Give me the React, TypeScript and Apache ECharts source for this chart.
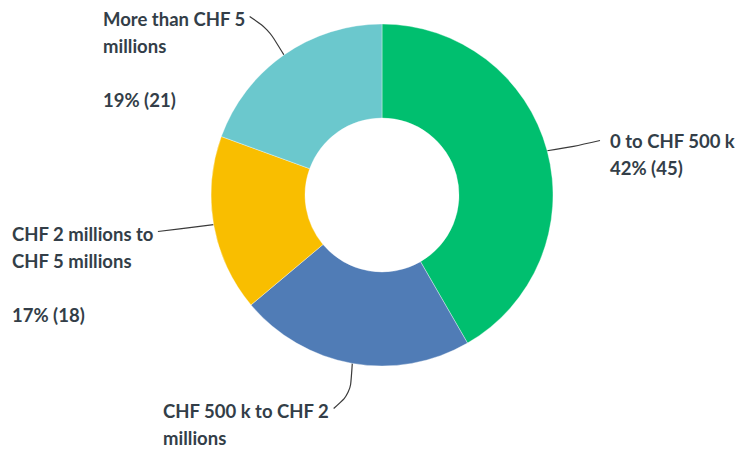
import React, { useEffect, useRef } from "react";
import * as echarts from "echarts";

const categories = [
  "0 to CHF 500 k",
  "CHF 500 k to CHF 2\nmillions",
  "CHF 2 millions to\nCHF 5 millions",
  "More than CHF 5\nmillions",
];
const counts = [45, 24, 18, 21];
const percents = [42, 22, 17, 19];
const colors = ["#00BF6F", "#507CB6", "#F9BE00", "#6BC8CD"];

export default function App() {
  const ref = useRef<HTMLDivElement>(null);
  useEffect(() => {
    if (!ref.current) return;
    const chart = echarts.init(ref.current, undefined, { renderer: "svg" });
    const LH = 27;
    const place = [
      { x: 610, y: 127, side: "right" },
      { x: 163, y: 397, side: "left" },
      { x: 12, y: 220, side: "left" },
      { x: 103, y: 5, side: "left" },
    ];
    chart.setOption({
      animation: false,
      backgroundColor: "#ffffff",
      series: [
        {
          type: "pie",
          center: [382, 195],
          radius: [77, 171],
          startAngle: 90,
          clockwise: true,
          data: categories.map((name, i) => ({
            name,
            value: counts[i],
            itemStyle: { color: colors[i] },
          })),
          itemStyle: { borderColor: "rgba(255,255,255,0.6)", borderWidth: 0.6 },
          label: {
            show: true,
            position: "outside",
            color: "#333e48",
            fontFamily: "Lato",
            fontWeight: "bold",
            fontSize: 18.5,
            lineHeight: LH,
            formatter: (p: any) => {
              const i = p.dataIndex;
              const sep = categories[i].includes("\n") ? "\n\n" : "\n";
              return `${categories[i]}${sep}${percents[i]}% (${counts[i]})`;
            },
          },
          labelLine: {
            show: true,
            smooth: 0.3,
            lineStyle: { color: "#3a3a3a", width: 1.2 },
          },
          labelLayout: (params: any) => {
            const i = params.dataIndex;
            const pl = place[i];
            const w = params.labelRect.width;
            const anchor = params.labelLinePoints
              ? params.labelLinePoints[0]
              : [0, 0];
            let end: number[];
            let mid: number[];
            if (pl.side === "right") {
              end = [pl.x - 10, pl.y + LH / 2];
              mid = [(anchor[0] + end[0]) / 2, (anchor[1] + end[1]) / 2 + 1];
            } else {
              end = [pl.x + w + 4, pl.y + LH / 2 - 2];
              if (i === 3) mid = [anchor[0] - 16, anchor[1] - 26];
              else if (i === 1) mid = [anchor[0] - 2, anchor[1] + 30];
              else mid = [(anchor[0] + end[0]) / 2, (anchor[1] + end[1]) / 2];
            }
            return {
              x: pl.x,
              y: pl.y,
              align: "left",
              verticalAlign: "top",
              labelLinePoints: [anchor, mid, end],
            };
          },
        },
      ],
    });
    return () => chart.dispose();
  }, []);
  return (
    <div
      ref={ref}
      style={{ position: "fixed", left: 0, top: 0, width: 741, height: 450 }}
    />
  );
}
